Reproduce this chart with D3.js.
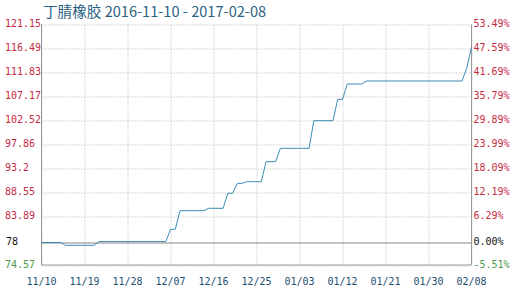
<!DOCTYPE html>
<html>
<head>
<meta charset="utf-8">
<script src="https://cdn.jsdelivr.net/npm/d3@7"></script>
<style>
  body { margin: 0; background: #fff; }
  svg text { font-family: "DejaVu Sans Mono", monospace; font-size: 10px; }
</style>
</head>
<body>
<div id="chart"></div>
<script>
// series: price points (change points only)
const dates = ["2016-11-10", "2016-11-14", "2016-11-15", "2016-11-21", "2016-11-22",
    "2016-12-06", "2016-12-07", "2016-12-08", "2016-12-09", "2016-12-14", "2016-12-15",
    "2016-12-18", "2016-12-19", "2016-12-20", "2016-12-21", "2016-12-22", "2016-12-23",
    "2016-12-26", "2016-12-27", "2016-12-29", "2016-12-30", "2017-01-05", "2017-01-06",
    "2017-01-10", "2017-01-11", "2017-01-12", "2017-01-13", "2017-01-16", "2017-01-17",
    "2017-02-06", "2017-02-07", "2017-02-08"];
const prices = [78.93, 78.93, 78.38, 78.38, 79.10,
    79.10, 81.48, 81.48, 85.09, 85.09, 85.55,
    85.55, 88.46, 88.46, 90.39, 90.39, 90.70,
    90.70, 94.58, 94.58, 97.17, 97.17, 102.52,
    102.52, 106.66, 106.66, 109.63, 109.63, 110.21,
    110.21, 112.67, 116.80];

// axis ticks
const basePrice = 78.93;
const baseLabel = "78";
const yTicks = [121.15, 116.49, 111.83, 107.17, 102.52, 97.86, 93.2, 88.55, 83.89, 74.57];
const pctTicks = ["53.49%", "47.59%", "41.69%", "35.79%", "29.89%", "23.99%", "18.09%", "12.19%", "6.29%", "-5.51%"];
const xTicks = ["2016-11-10", "2016-11-19", "2016-11-28", "2016-12-07", "2016-12-16", "2016-12-25",
    "2017-01-03", "2017-01-12", "2017-01-21", "2017-01-30", "2017-02-08"];
const title = "丁腈橡胶 2016-11-10 - 2017-02-08";

const W = 514, H = 291;
const margin = { top: 24.5, right: 42.5, bottom: 26, left: 41.5 },
    width = W - margin.left - margin.right,
    height = H - margin.top - margin.bottom;

const parse = d3.timeParse("%Y-%m-%d");
const data = dates.map((d, i) => ({ date: parse(d), value: prices[i] }));

const x = d3.scaleTime()
    .domain([parse(xTicks[0]), parse(xTicks[xTicks.length - 1])])
    .range([0, width]);
const y = d3.scaleLinear()
    .domain([74.57, 121.15])
    .range([height, 0]);

const svg = d3.select("#chart").append("svg")
    .attr("width", W)
    .attr("height", H);

svg.append("text")
    .attr("x", 43)
    .attr("y", 17)
    .attr("fill", "#2d6283")
    .style("font-family", "'Noto Sans CJK SC', 'Noto Sans', sans-serif")
    .style("font-size", "14.6px")
    .text(title);

const g = svg.append("g")
    .attr("transform", "translate(" + margin.left + "," + margin.top + ")");

// horizontal grid
g.append("g").selectAll("line")
    .data(yTicks)
    .enter().append("line")
    .attr("x1", 0).attr("x2", width)
    .attr("y1", d => Math.round(y(d)) + 0.5)
    .attr("y2", d => Math.round(y(d)) + 0.5)
    .attr("stroke", "#d6d6d6")
    .attr("stroke-dasharray", "2,1");

// vertical grid
g.append("g").selectAll("line")
    .data(xTicks)
    .enter().append("line")
    .attr("x1", d => Math.round(x(parse(d))) + 0.5)
    .attr("x2", d => Math.round(x(parse(d))) + 0.5)
    .attr("y1", 0).attr("y2", height)
    .attr("stroke", "#d6d6d6")
    .attr("stroke-dasharray", "2,1");

// frame
g.append("line").attr("x1", 0).attr("x2", 0).attr("y1", 0).attr("y2", height).attr("stroke", "#999");
g.append("line").attr("x1", width).attr("x2", width).attr("y1", 0).attr("y2", height).attr("stroke", "#999");
g.append("line").attr("x1", 0).attr("x2", width).attr("y1", height).attr("y2", height).attr("stroke", "#999");

// base line
const yb = Math.round(y(basePrice)) + 0.5;
g.append("line")
    .attr("x1", 0).attr("x2", width)
    .attr("y1", yb).attr("y2", yb)
    .attr("stroke", "#888");

// price line
g.append("path")
    .datum(data)
    .attr("fill", "none")
    .attr("stroke", "#3b8db3")
    .attr("stroke-width", 1)
    .attr("d", d3.line().x(d => x(d.date)).y(d => y(d.value)));

const tickColor = d => d < basePrice ? "#4a9a4a" : "#c42a44";

// left labels (left aligned at the edge of the picture)
g.append("g").selectAll("text")
    .data(yTicks)
    .enter().append("text")
    .attr("x", 5 - margin.left)
    .attr("y", d => y(d))
    .attr("dy", "0.25em")
    .attr("fill", tickColor)
    .text(d => d);

g.append("text")
    .attr("x", 6 - margin.left).attr("y", y(basePrice)).attr("dy", "0.25em")
    .attr("fill", "#111")
    .text(baseLabel);

// right labels
g.append("g").selectAll("text")
    .data(yTicks)
    .enter().append("text")
    .attr("x", width + 2)
    .attr("y", d => y(d))
    .attr("dy", "0.25em")
    .attr("fill", tickColor)
    .text((d, i) => pctTicks[i]);

g.append("text")
    .attr("x", width + 2).attr("y", y(basePrice)).attr("dy", "0.25em")
    .attr("fill", "#111")
    .text("0.00%");

// bottom labels
g.append("g").selectAll("text")
    .data(xTicks)
    .enter().append("text")
    .attr("x", d => x(parse(d)))
    .attr("y", height + 20)
    .attr("text-anchor", "middle")
    .attr("fill", "#1d4f72")
    .text(d => d3.timeFormat("%m/%d")(parse(d)));
</script>
</body>
</html>
